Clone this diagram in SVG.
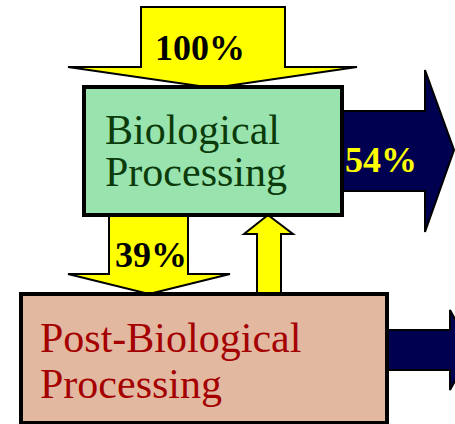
<svg xmlns="http://www.w3.org/2000/svg" width="455" height="424" viewBox="0 0 455 424">
<style>
.ya{fill:#FFFF00;stroke:#000;stroke-width:2;stroke-linejoin:miter}
.na{fill:#000050;stroke:#000;stroke-width:2}
.box{stroke:#000;stroke-width:4}
.lbl{font-family:"Liberation Serif","Times New Roman",serif;font-size:42px}
.pct{font-family:"Liberation Serif","Times New Roman",serif;font-size:36px;font-weight:bold}
</style>
<rect width="455" height="424" fill="#fff"/>
<g id="connectors">
<g id="in100">
<polygon class="ya" points="141,7 285,7 285,67 357,67 213,88 68,67 141,67"/>
<text class="pct" x="155" y="60" fill="#000">100%</text>
</g>
<g id="out54">
<polygon class="na" points="342,111 425,111 425,70 454,150 425,232 425,191 342,191"/>
<text class="pct" x="345" y="172" fill="#FFFF00">54%</text>
</g>
<g id="down39">
<polygon class="ya" points="109,215 188,215 188,274 230,274 149,294 68,274 109,274"/>
<text class="pct" x="115" y="267" fill="#000">39%</text>
</g>
<g id="up">
<polygon class="ya" points="268,215 293,234 281,234 281,294 257,294 257,234 244,234"/>
</g>
<g id="outBottom">
<polygon class="na" points="387,330 450,330 450,310 472,350 450,390 450,370 387,370"/>
</g>
</g>
<g id="bio">
<rect class="box" x="84" y="87" width="258" height="128" fill="#99E3AE"/>
<text class="lbl" x="105" y="144" fill="#0B3B0B">Biological</text>
<text class="lbl" x="105" y="186" fill="#0B3B0B">Processing</text>
</g>
<g id="post">
<rect class="box" x="21" y="294" width="366" height="129" fill="#E3B8A0"/>
<text class="lbl" x="40" y="352" fill="#A50000">Post-Biological</text>
<text class="lbl" x="40" y="398" fill="#A50000">Processing</text>
</g>
</svg>
